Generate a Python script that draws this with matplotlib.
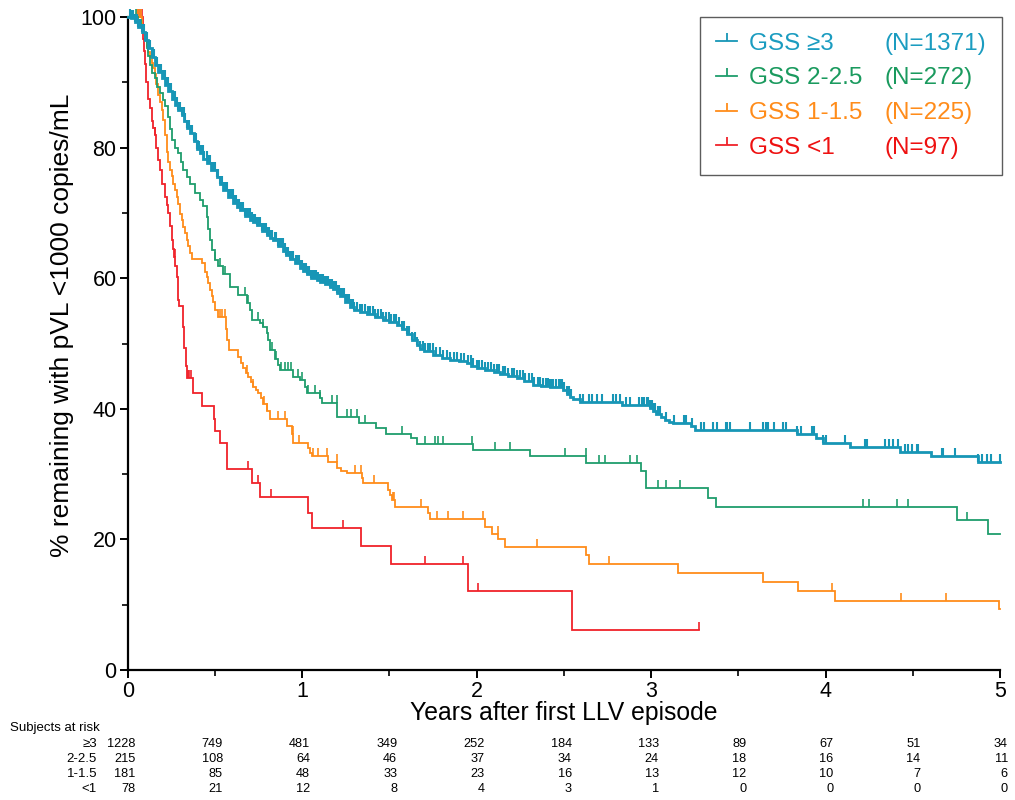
import numpy as np
import matplotlib
matplotlib.use('Agg')
import matplotlib.pyplot as plt
from matplotlib.path import Path
from matplotlib.lines import Line2D
from matplotlib.transforms import blended_transform_factory

plt.rcParams['font.family'] = ['Liberation Sans', 'DejaVu Sans']

# ---------------- data ----------------
groups = ['GSS \u22653', 'GSS 2-2.5', 'GSS 1-1.5', 'GSS <1']
group_n = ['(N=1371)', '(N=272)', '(N=225)', '(N=97)']
risk_labels = ['\u22653', '2-2.5', '1-1.5', '<1']

# GSS >=3 : step times and survival (%) after each step
teal_t = [0, 0.02, 0.04, 0.06, 0.08, 0.10, 0.118, 0.137, 0.156, 0.175, 0.195, 0.214, 0.233, 0.252,
          0.271, 0.29, 0.309, 0.325, 0.338, 0.357, 0.38, 0.40, 0.414, 0.433, 0.453, 0.48, 0.51, 0.53,
          0.548, 0.575, 0.605, 0.625, 0.644, 0.67, 0.701, 0.72, 0.739, 0.77, 0.797, 0.815, 0.834,
          0.86, 0.892, 0.91, 0.93, 0.96, 0.987, 1.006, 1.026, 1.05, 1.083, 1.10, 1.13, 1.159, 1.178,
          1.2, 1.217, 1.245, 1.274, 1.30, 1.33, 1.37, 1.42, 1.465, 1.50, 1.541, 1.57, 1.599, 1.63,
          1.656, 1.675, 1.70, 1.751, 1.80, 1.847, 1.90, 1.943, 1.97, 2.0, 2.05, 2.10, 2.134, 2.18,
          2.229, 2.27, 2.324, 2.37, 2.42, 2.496, 2.516, 2.535, 2.554, 2.592, 2.831, 2.993, 3.01,
          3.031, 3.055, 3.079, 3.10, 3.127, 3.23, 3.251, 3.834, 3.948, 3.983, 4.139, 4.426, 4.602,
          4.875]
teal_s = [100, 99.8, 99.3, 98.5, 97.7, 96.5, 95.2, 93.9, 92.6, 91.6, 90.6, 89.6, 88.6, 87.5,
          86.5, 85.7, 85.0, 84.0, 83.0, 82.2, 81.0, 79.8, 79.1, 78.3, 77.6, 76.5, 75.5, 74.4,
          73.5, 72.5, 71.5, 70.9, 70.4, 69.6, 68.9, 68.6, 68.1, 67.2, 66.6, 66.2, 65.8,
          65.0, 64.1, 63.5, 63.0, 62.3, 61.6, 61.1, 60.6, 60.1, 59.7, 59.4, 59.1, 58.7, 58.3,
          57.7, 57.2, 56.4, 55.6, 55.2, 54.9, 54.5, 54.0, 53.6, 53.3, 52.9, 52.2, 51.4, 50.6,
          49.8, 49.2, 48.8, 48.3, 47.8, 47.5, 47.3, 47.0, 46.6, 46.3, 46.0, 45.7, 45.3, 45.0,
          44.7, 44.3, 43.7, 43.5, 43.3, 42.9, 42.2, 41.8, 41.5, 41.1, 40.6, 40.1, 39.7,
          39.2, 38.8, 38.3, 38.0, 37.8, 37.3, 36.8, 36.2, 35.5, 34.7, 34.1, 33.4, 32.8,
          31.9]
teal_end = 5.0
teal_cens = [0.012, 0.02, 0.031, 0.04, 0.052, 0.061, 0.07, 0.083, 0.091, 0.1, 0.112, 0.121, 0.13,
             0.142, 0.15, 0.161, 0.17, 0.181, 0.19, 0.2, 0.211, 0.22, 0.232, 0.24, 0.25, 0.262, 0.27,
             0.281, 0.29, 0.3, 0.311, 0.32, 0.33, 0.342, 0.35, 0.361, 0.37, 0.38, 0.392, 0.4, 0.41,
             0.421, 0.43, 0.44, 0.452, 0.46, 0.47, 0.481, 0.49, 0.5, 0.511, 0.52, 0.53, 0.541, 0.55,
             0.56, 0.572, 0.58, 0.59, 0.601, 0.61, 0.62, 0.632, 0.64, 0.65, 0.661, 0.67, 0.68, 0.692,
             0.70, 0.71, 0.721, 0.73, 0.74, 0.752, 0.76, 0.77, 0.781, 0.79, 0.80, 0.812, 0.82, 0.83,
             0.842, 0.85, 0.86, 0.871, 0.88, 0.89, 0.902, 0.91, 0.92, 0.931, 0.94, 0.95, 0.962, 0.97,
             0.98, 0.991, 1.0, 1.012, 1.02, 1.03, 1.041, 1.05, 1.06, 1.072, 1.08, 1.09, 1.101, 1.11,
             1.12, 1.132, 1.14, 1.15, 1.161, 1.17, 1.18, 1.192, 1.2, 1.21, 1.221, 1.23, 1.24, 1.252,
             1.26, 1.27, 1.281, 1.29, 1.30, 1.315, 1.33, 1.345, 1.36, 1.375, 1.39, 1.405, 1.42, 1.435,
             1.45, 1.465, 1.48, 1.495, 1.51, 1.525, 1.54, 1.555, 1.57, 1.585, 1.60, 1.615, 1.63, 1.645,
             1.66, 1.675, 1.69, 1.705, 1.72, 1.735, 1.75, 1.77, 1.79, 1.81, 1.83, 1.85, 1.87, 1.89,
             1.91, 1.93, 1.95, 1.965, 1.98, 2.0, 2.015, 2.03, 2.05, 2.065, 2.08, 2.1, 2.115, 2.13, 2.15,
             2.165, 2.18, 2.2, 2.215, 2.23, 2.25, 2.265, 2.28, 2.3, 2.315, 2.33, 2.35, 2.365, 2.38, 2.4,
             2.41, 2.42, 2.43, 2.44, 2.455, 2.47, 2.48, 2.49, 2.5, 2.52, 2.53, 2.54, 2.592, 2.611, 2.645,
             2.659, 2.688, 2.716, 2.783, 2.798, 2.821, 2.856, 2.879, 2.932, 2.946, 2.959, 2.975, 2.985,
             2.995, 3.005, 3.015, 3.025, 3.04, 3.05, 3.085, 3.131, 3.19, 3.2, 3.232, 3.289, 3.303,
             3.356, 3.375, 3.427, 3.438, 3.452, 3.566, 3.643, 3.658, 3.671, 3.704, 3.757, 3.772,
             3.837, 3.862, 3.92, 3.935, 3.986, 4.002, 4.111, 4.225, 4.235, 4.34, 4.364, 4.387, 4.416,
             4.455, 4.473, 4.493, 4.522, 4.531, 4.665, 4.674, 4.741, 4.875, 4.894, 4.923, 4.951, 5.0]

# GSS 2-2.5
green_t = [0, 0.06, 0.075, 0.09, 0.1, 0.11, 0.118, 0.128, 0.137, 0.156, 0.17, 0.185, 0.2, 0.214,
           0.233, 0.242, 0.252, 0.27, 0.29, 0.305, 0.319, 0.338, 0.357, 0.386, 0.414, 0.433, 0.453,
           0.462, 0.472, 0.481, 0.5, 0.519, 0.548, 0.586, 0.634, 0.682, 0.701, 0.711, 0.758, 0.777,
           0.797, 0.806, 0.815, 0.844, 0.863, 0.873, 0.949, 0.99, 1.016, 1.026, 1.102, 1.111, 1.201,
           1.327, 1.423, 1.48, 1.622, 1.66, 1.977, 2.305, 2.626, 2.94, 2.97, 3.324, 3.37, 4.754,
           4.932]
green_s = [100, 99.5, 98.5, 97.5, 96.5, 95.3, 94.0, 92.6, 91.5, 90.6, 89.3, 88.3, 87.3, 86.3,
           84.7, 82.8, 81.2, 80.0, 79.1, 77.8, 76.6, 75.5, 74.5, 73.0, 72.0, 71.0, 69.4,
           67.5, 65.8, 64.3, 62.8, 61.8, 60.7, 58.7, 57.4, 56.2, 55.1, 53.6, 53.1, 52.6,
           51.6, 50.5, 49.0, 47.7, 46.7, 46.0, 44.8, 44.4, 43.4, 42.4, 41.7, 40.9, 38.8,
           37.9, 37.1, 36.2, 35.5, 34.6, 33.7, 32.7, 31.7, 30.4, 27.8, 26.3, 24.9, 23.0,
           20.9]
green_end = 5.0
green_cens = [0.05, 0.5, 0.53, 0.56, 0.672, 0.69, 0.749, 0.777, 0.83, 0.85, 0.88, 0.9, 0.921, 0.936,
              0.978, 0.997, 1.035, 1.074, 1.102, 1.169, 1.198, 1.255, 1.278, 1.316, 1.36, 1.57,
              1.704, 1.761, 1.78, 1.809, 1.971, 2.105, 2.191, 2.506, 2.625, 2.70, 2.735, 2.879,
              2.917, 3.041, 3.083, 3.165, 4.212, 4.25, 4.41, 4.473, 4.812]

# GSS 1-1.5
orange_t = [0, 0.08, 0.09, 0.10, 0.109, 0.118, 0.128, 0.137, 0.147, 0.156, 0.165, 0.176, 0.185,
            0.195, 0.204, 0.214, 0.223, 0.232, 0.242, 0.252, 0.261, 0.271, 0.281, 0.29, 0.3, 0.309,
            0.319, 0.33, 0.338, 0.347, 0.357, 0.367, 0.424, 0.443, 0.453, 0.462, 0.472, 0.481, 0.49,
            0.5, 0.52, 0.565, 0.572, 0.58, 0.634, 0.648, 0.663, 0.676, 0.691, 0.705, 0.72, 0.735,
            0.749, 0.763, 0.777, 0.797, 0.815, 0.911, 0.94, 0.949, 1.035, 1.045, 1.054, 1.15, 1.201,
            1.225, 1.255, 1.341, 1.35, 1.494, 1.505, 1.513, 1.532, 1.723, 1.732, 2.048, 2.086, 2.124,
            2.162, 2.626, 2.645, 3.155, 3.643, 3.843, 4.053, 4.995]
orange_s = [100, 98.7, 97.5, 96.5, 95.5, 94.7, 93.8, 93.0, 92.2, 91.2, 89.8, 88.0, 87.0,
            85.8, 84.2, 82.0, 79.3, 77.8, 76.6, 75.6, 74.5, 73.5, 72.5, 71.3, 69.9, 68.9,
            67.9, 66.9, 65.9, 64.9, 63.8, 63.0, 62.3, 60.9, 60.2, 59.2, 58.2, 57.2, 56.4,
            55.1, 54.1, 52.2, 50.5, 49.0, 47.9, 47.0, 46.2, 45.5, 44.9, 44.1, 43.4, 42.9,
            42.4, 41.6, 40.8, 39.6, 38.5, 37.3, 36.2, 34.8, 34.0, 33.3, 32.7, 31.9, 30.9,
            30.5, 30.1, 29.4, 28.6, 27.6, 26.8, 26.0, 25.0, 24.0, 23.1, 21.9, 20.9, 20.0,
            18.9, 17.6, 16.2, 14.9, 13.5, 12.1, 10.6, 9.4]
orange_end = 5.0
orange_cens = [0.055, 0.065, 0.075, 0.529, 0.538, 0.558, 0.682, 0.72, 0.783, 0.797, 0.863, 0.902,
               0.946, 0.983, 1.064, 1.092, 1.14, 1.198, 1.303, 1.335, 1.411, 1.519, 1.525, 1.681,
               1.771, 1.837, 1.923, 2.034, 2.12, 2.344, 2.76, 4.038, 4.43, 4.69]

# GSS <1
red_t = [0, 0.085, 0.09, 0.095, 0.1, 0.104, 0.118, 0.128, 0.137, 0.147, 0.156, 0.165, 0.176, 0.185,
         0.195, 0.214, 0.225, 0.233, 0.24, 0.252, 0.258, 0.265, 0.273, 0.281, 0.286, 0.29, 0.293,
         0.319, 0.325, 0.334, 0.34, 0.372, 0.424, 0.495, 0.5, 0.529, 0.571, 0.71, 0.758, 1.031,
         1.054, 1.335, 1.509, 1.95, 2.548]
red_s = [100, 98.7, 96.7, 94.8, 92.8, 90.0, 87.5, 86.0, 84.0, 83.0, 81.9, 80.0, 78.1, 76.5,
         74.5, 72.5, 71.2, 70.0, 68.0, 65.8, 64.5, 63.3, 61.8, 60.2, 58.5, 56.7, 55.7,
         52.5, 49.3, 46.5, 44.7, 42.4, 40.4, 38.5, 36.6, 34.7, 30.8, 28.7, 26.5, 24.1,
         21.7, 19.0, 16.2, 12.1, 6.1]
red_end = 3.274
red_cens = [0.06, 0.07, 0.08, 0.156, 0.27, 0.345, 0.352, 0.36, 0.688, 0.745, 0.82, 1.232, 1.704,
            1.923, 2.006, 3.274]

# subjects at risk
risk_times = [0, 0.5, 1, 1.5, 2, 2.5, 3, 3.5, 4, 4.5, 5]
risk_ge3 = [1228, 749, 481, 349, 252, 184, 133, 89, 67, 51, 34]
risk_2 = [215, 108, 64, 46, 37, 34, 24, 18, 16, 14, 11]
risk_1 = [181, 85, 48, 33, 23, 16, 13, 12, 10, 7, 6]
risk_lt1 = [78, 21, 12, 8, 4, 3, 1, 0, 0, 0, 0]

# ---------------- styling ----------------
colors = ['#1796b6', '#1f9d6c', '#ff8c1a', '#f0222a']
text_colors = ['#1b9cc0', '#1a9a5e', '#ff8c1a', '#ee1111']
lws = [2.0, 1.3, 1.3, 1.3]

tick_marker = Path([(0, 0), (0, 1)], [Path.MOVETO, Path.LINETO])

fig = plt.figure(figsize=(10.15, 8.0), dpi=100)
ax = fig.add_axes([0.12581, 0.1625, 0.85941, 0.81625])

series = [
    (teal_t, teal_s, teal_end, teal_cens),
    (green_t, green_s, green_end, green_cens),
    (orange_t, orange_s, orange_end, orange_cens),
    (red_t, red_s, red_end, red_cens),
]

for i in [3, 2, 1, 0]:
    t, s, end, cens = series[i]
    t = np.asarray(t, float)
    s = np.asarray(s, float)
    x = np.append(t, end)
    y = np.append(s, s[-1])
    ax.plot(x, y, drawstyle='steps-post', color=colors[i], lw=lws[i], clip_on=False,
            solid_joinstyle='miter', zorder=3 + (3 - i))
    c = np.asarray(cens, float)
    idx = np.searchsorted(t, c, side='right') - 1
    cy = s[idx]
    ax.plot(c, cy, ls='none', marker=tick_marker, markersize=12,
            markeredgewidth=1.5 if i == 0 else 1.2, color=colors[i],
            clip_on=False, zorder=3 + (3 - i))

ax.set_xlim(0, 5)
ax.set_ylim(0, 100)
ax.set_xticks([0, 1, 2, 3, 4, 5])
ax.set_xticks([0.5, 1.5, 2.5, 3.5, 4.5], minor=True)
ax.set_yticks([0, 20, 40, 60, 80, 100])
ax.set_yticks([10, 30, 50, 70, 90], minor=True)
for sp in ['top', 'right']:
    ax.spines[sp].set_visible(False)
for sp in ['left', 'bottom']:
    ax.spines[sp].set_linewidth(1.6)
    ax.spines[sp].set_color('black')
ax.tick_params(which='major', direction='out', length=6, width=1.4, labelsize=15.5, pad=2)
ax.tick_params(which='minor', direction='out', length=4, width=1.2)

ax.set_xlabel('Years after first LLV episode', fontsize=17.8)
ax.xaxis.set_label_coords(0.5, -0.047)
ax.set_ylabel('% remaining with pVL <1000 copies/mL', fontsize=19)
ax.yaxis.set_label_coords(-0.062, 0.528)

# legend
handles = [Line2D([], [], color=c, lw=1.3, marker=tick_marker, markersize=12, markeredgewidth=1.3)
           for c in colors]
blanks = [Line2D([], [], alpha=0) for _ in colors]
leg = ax.legend(handles + blanks, groups + group_n, ncol=2, loc='upper right',
                bbox_to_anchor=(1.002, 1.0), bbox_transform=ax.transAxes,
                frameon=True, fancybox=False, edgecolor='#333333', fontsize=17.5,
                handlelength=0.85, handletextpad=0.5, columnspacing=-0.45,
                labelspacing=0.52, borderpad=0.65, borderaxespad=0, numpoints=1)
leg.get_frame().set_linewidth(1.0)
for txt, c in zip(leg.get_texts(), text_colors + text_colors):
    txt.set_color(c)

# risk table
trans = blended_transform_factory(ax.transData, fig.transFigure)
fig.text(10 / 1015, 1 - 728 / 800, 'Subjects at risk', fontsize=9.5, ha='left', va='center')
row_y = [744, 759, 774, 789]
for lab, vals, yy in zip(risk_labels, [risk_ge3, risk_2, risk_1, risk_lt1], row_y):
    fig.text(97 / 1015, 1 - yy / 800, lab, fontsize=9.5, ha='right', va='center')
    for tt, v in zip(risk_times, vals):
        ax.text(tt + 0.045, 1 - yy / 800, str(v), fontsize=9.2, ha='right', va='center',
                transform=trans, clip_on=False)

fig.savefig('out.png', dpi=100)
